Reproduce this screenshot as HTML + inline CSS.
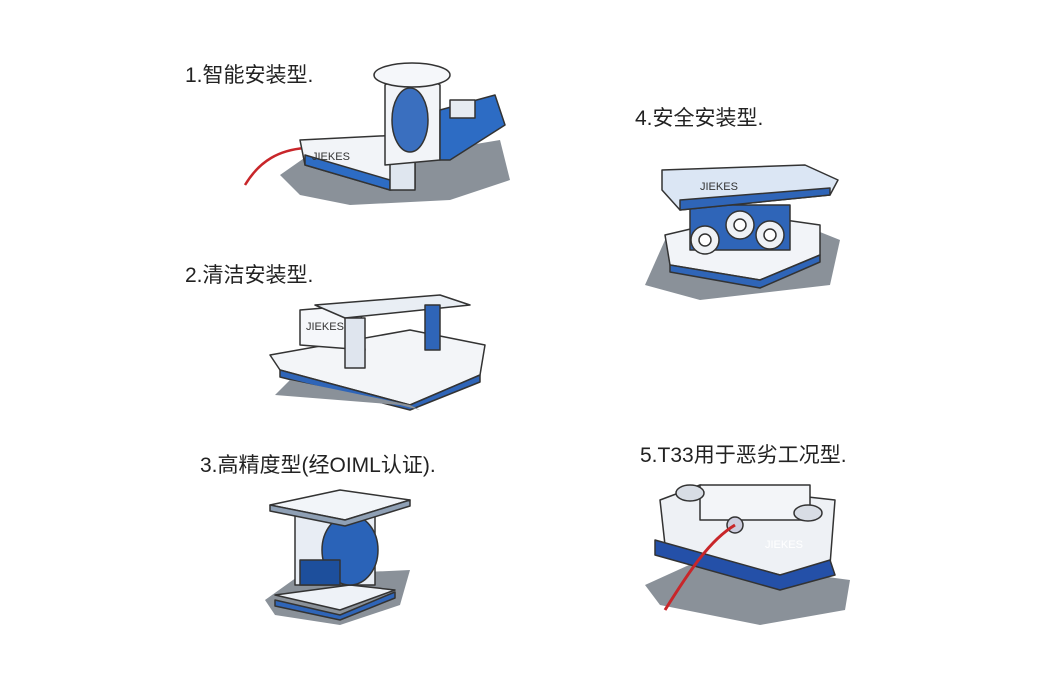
<!DOCTYPE html>
<html><head><meta charset="utf-8"><style>
html,body{margin:0;padding:0;background:#fff;}
svg{display:block}
text{font-family:"Liberation Sans","WenQuanYi Zen Hei","Noto Sans CJK SC",sans-serif;fill:#222;font-size:21px}
</style></head><body>
<svg width="1060" height="680" viewBox="0 0 1060 680" xmlns="http://www.w3.org/2000/svg">
<g stroke="#333" stroke-width="1.5" stroke-linejoin="round">
<!-- 1 -->
<polygon points="280,175 330,140 440,150 500,140 510,180 450,200 350,205 300,195" fill="#8a9199" stroke="none"/>
<path d="M245,185 C260,160 280,150 305,148" fill="none" stroke="#c8262a" stroke-width="2.5"/>
<polygon points="300,140 400,135 415,150 415,188 390,190 305,165" fill="#f2f4f8"/>
<polygon points="305,165 390,190 390,180 305,155" fill="#2d6cc4"/>
<rect x="390" y="150" width="25" height="40" fill="#dfe6ef"/>
<path d="M385,165 L385,85 Q410,65 440,85 L440,160 Z" fill="#f2f4f8"/>
<ellipse cx="410" cy="120" rx="18" ry="32" fill="#3a6fbf"/>
<ellipse cx="412" cy="75" rx="38" ry="12" fill="#f5f7fa"/>
<polygon points="440,110 495,95 505,125 450,160 440,160" fill="#2d6cc4"/>
<rect x="450" y="100" width="25" height="18" fill="#e6ebf2"/>
<text x="312" y="160" style="font-size:11px;fill:#333" stroke="none">JIEKES</text>
<!-- 2 -->
<polygon points="270,355 410,330 485,345 480,375 410,405 280,370" fill="#f3f5f8"/>
<polygon points="280,370 410,405 480,375 480,382 410,410 280,377" fill="#2f65b8"/>
<polygon points="275,395 290,380 410,405 420,410 400,405" fill="#8a9199" stroke="none"/>
<polygon points="300,310 360,305 365,350 300,345" fill="#f5f7fa"/>
<polygon points="315,305 440,295 470,305 345,318" fill="#e9eef4"/>
<rect x="345" y="318" width="20" height="50" fill="#dfe5ee"/>
<rect x="425" y="305" width="15" height="45" fill="#2f65b8"/>
<text x="306" y="330" style="font-size:11px;fill:#333" stroke="none">JIEKES</text>
<!-- 3 -->
<polygon points="265,600 300,575 410,570 400,605 340,625 275,615" fill="#8a9199" stroke="none"/>
<polygon points="275,595 350,585 395,590 340,610" fill="#eef2f7"/>
<polygon points="275,600 340,615 395,592 395,598 340,620 275,606" fill="#2f65b8"/>
<rect x="295" y="510" width="80" height="75" fill="#e8edf4"/>
<ellipse cx="350" cy="550" rx="28" ry="35" fill="#2a63b8"/>
<rect x="300" y="560" width="40" height="25" fill="#1d4f9c"/>
<polygon points="270,505 340,490 410,500 345,520" fill="#f2f5f9"/>
<polygon points="270,505 345,520 410,500 410,506 345,526 270,511" fill="#8fa0b5"/>
<!-- 4 -->
<polygon points="645,285 665,240 790,220 840,240 830,285 700,300" fill="#8a9199" stroke="none"/>
<polygon points="665,235 750,215 820,225 820,255 760,280 670,265" fill="#f2f4f8"/>
<polygon points="670,265 760,280 820,255 820,262 760,288 670,272" fill="#2f65b8"/>
<rect x="690" y="205" width="100" height="45" fill="#2f65b8"/>
<circle cx="705" cy="240" r="14" fill="#eef1f5"/><circle cx="705" cy="240" r="6" fill="#fff"/>
<circle cx="740" cy="225" r="14" fill="#eef1f5"/><circle cx="740" cy="225" r="6" fill="#fff"/>
<circle cx="770" cy="235" r="14" fill="#eef1f5"/><circle cx="770" cy="235" r="6" fill="#fff"/>
<polygon points="662,170 805,165 838,180 830,195 680,210 662,190" fill="#dbe6f4"/>
<polygon points="680,200 830,188 830,195 680,210" fill="#2f65b8"/>
<text x="700" y="190" style="font-size:11px;fill:#333" stroke="none">JIEKES</text>
<!-- 5 -->
<polygon points="645,585 700,560 850,580 845,610 760,625 660,605" fill="#8a9199" stroke="none"/>
<polygon points="660,500 700,485 835,500 830,565 780,575 665,545" fill="#eef1f5"/>
<polygon points="655,540 780,575 830,560 835,575 780,590 655,555" fill="#2450a8"/>
<rect x="700" y="485" width="110" height="35" fill="#f3f5f8"/>
<ellipse cx="690" cy="493" rx="14" ry="8" fill="#d8dde5"/>
<ellipse cx="808" cy="513" rx="14" ry="8" fill="#d8dde5"/>
<circle cx="735" cy="525" r="8" fill="#ccd"/>
<path d="M735,525 C710,540 690,570 665,610" fill="none" stroke="#c8262a" stroke-width="3"/>
<text x="765" y="548" style="font-size:11px;fill:#fff" stroke="none">JIEKES</text>
</g>
<text x="185" y="82">1.智能安装型.</text>
<text x="185" y="282">2.清洁安装型.</text>
<text x="200" y="472">3.高精度型(经OIML认证).</text>
<text x="635" y="125">4.安全安装型.</text>
<text x="640" y="462">5.T33用于恶劣工况型.</text>
</svg>
</body></html>
